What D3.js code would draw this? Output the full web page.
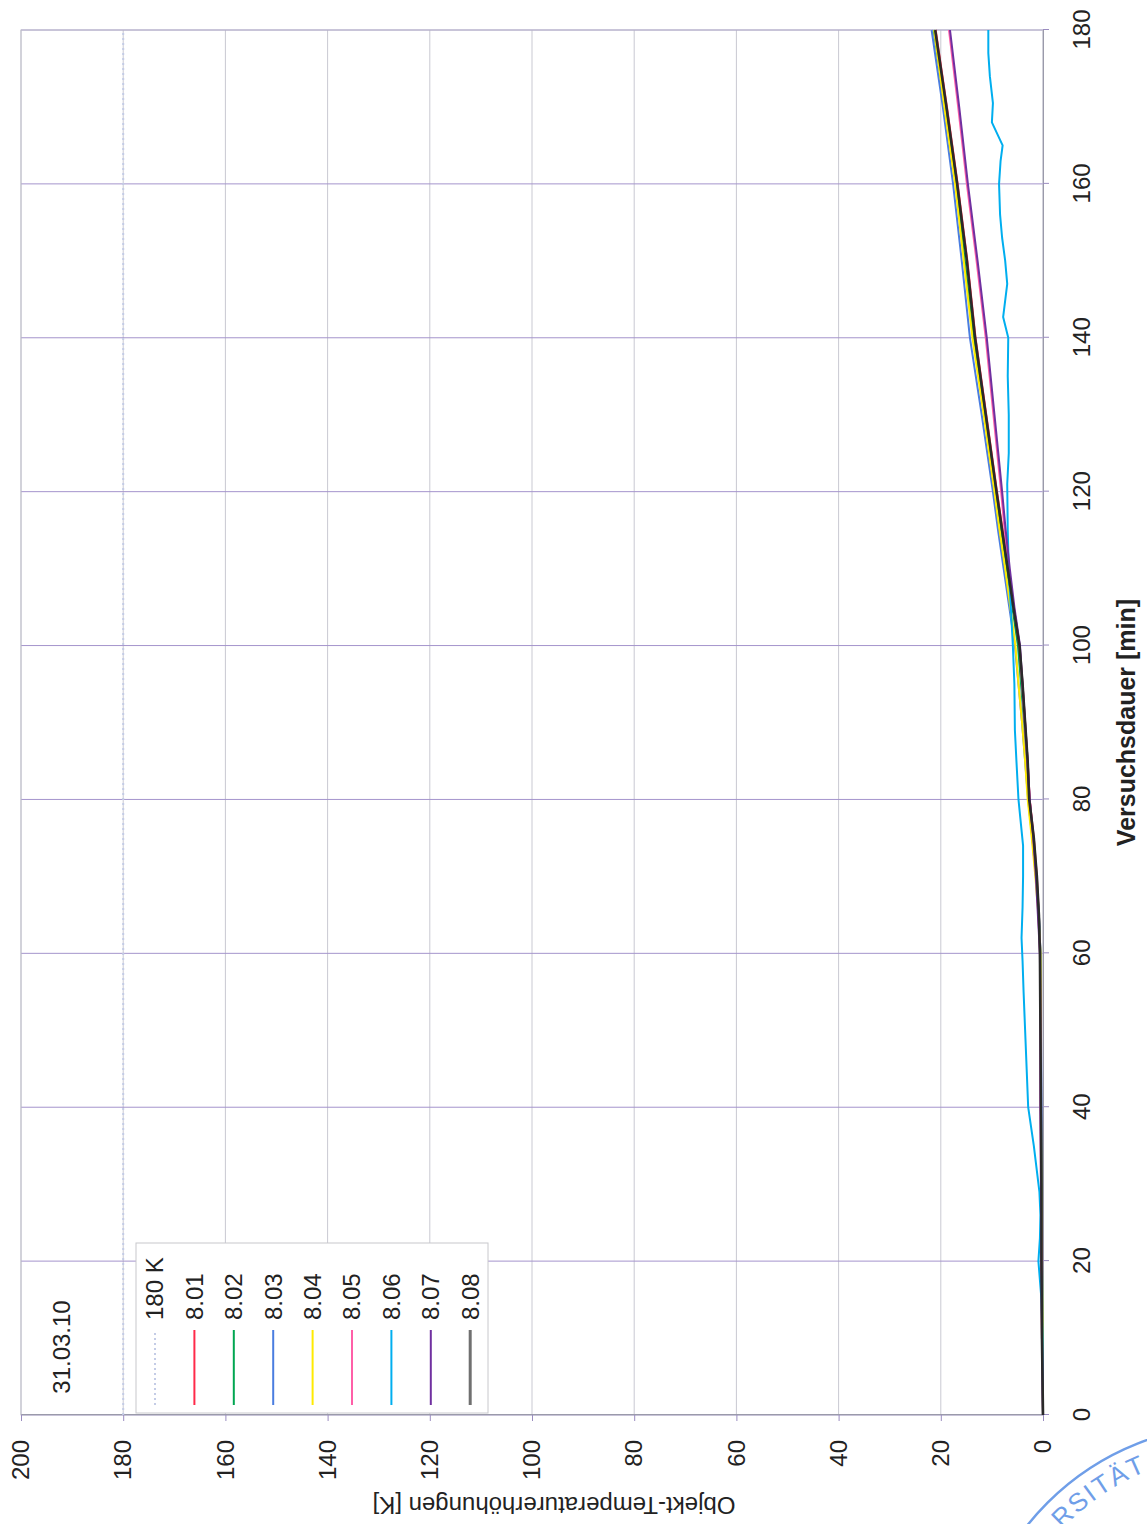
<!DOCTYPE html>
<html>
<head>
<meta charset="utf-8">
<script src="https://cdn.jsdelivr.net/npm/d3@7/dist/d3.min.js"></script>
<style>
  body { margin: 0; background: #fff; }
  text { font-family: "Liberation Sans", Arial, sans-serif; fill: #222; }
</style>
</head>
<body>
<svg id="chart" width="1147" height="1524"></svg>
<script>
// --- data ---
var timeTicks = [0, 20, 40, 60, 80, 100, 120, 140, 160, 180];
var tempTicks = [0, 20, 40, 60, 80, 100, 120, 140, 160, 180, 200];

var minutes = [0, 10, 20, 30, 40, 50, 60, 65, 70, 75, 80, 85, 90, 95, 100, 105, 110, 115, 120, 130, 140, 150, 160, 170, 180];
var s801 = [0, 0.2, 0.3, 0.3, 0.4, 0.4, 0.5, 0.8, 1.2, 1.8, 2.6, 3.0, 3.5, 4.0, 4.6, 5.7, 6.8, 7.9, 9.0, 11.1, 13.2, 14.8, 16.7, 18.8, 21.0];
var s802 = [0, 0.1, 0.2, 0.3, 0.4, 0.4, 0.5, 0.8, 1.3, 1.9, 2.7, 3.2, 3.7, 4.3, 4.9, 6.0, 7.1, 8.2, 9.3, 11.4, 13.6, 15.3, 17.0, 19.2, 21.4];
var s803 = [0, 0.1, 0.2, 0.2, 0.3, 0.4, 0.5, 0.8, 1.4, 2.1, 2.9, 3.5, 4.1, 4.8, 5.5, 6.6, 7.7, 8.8, 9.8, 12.0, 14.3, 15.9, 17.6, 19.6, 21.8];
var s804 = [0, 0.1, 0.2, 0.3, 0.4, 0.4, 0.5, 0.9, 1.5, 2.2, 3.0, 3.5, 4.1, 4.8, 5.4, 6.4, 7.4, 8.5, 9.5, 11.6, 13.8, 15.5, 17.2, 19.3, 21.3];
var s805 = [0, 0.2, 0.3, 0.4, 0.5, 0.5, 0.6, 0.9, 1.3, 1.9, 2.6, 3.1, 3.6, 4.1, 4.6, 5.8, 6.7, 7.5, 8.2, 9.7, 11.2, 13.0, 14.9, 16.6, 18.4];
var s807 = [0, 0.2, 0.3, 0.4, 0.5, 0.5, 0.6, 1.0, 1.4, 1.9, 2.6, 3.0, 3.5, 4.0, 4.5, 5.6, 6.5, 7.3, 8.0, 9.5, 11.0, 12.8, 14.7, 16.4, 18.2];
var s808 = [0, 0.2, 0.3, 0.3, 0.4, 0.5, 0.6, 0.8, 1.2, 1.8, 2.7, 3.0, 3.5, 4.0, 4.6, 5.8, 6.9, 8.0, 9.1, 11.2, 13.3, 14.9, 16.8, 18.9, 21.1];

// 8.06 is the noisy one, read at more points
var minutes806 = [0, 10, 15, 20, 23, 26, 29, 35, 40, 45, 50, 55, 59, 62, 66, 70, 74, 78, 80, 85, 89, 95, 100, 105, 110, 115, 121, 125, 130, 135, 140, 142.7, 147, 150, 153, 156, 160, 163, 165, 168, 170.5, 174, 177, 180];
var s806 = [0, 0.1, 0.3, 0.9, 0.6, 0.5, 0.7, 1.8, 2.9, 3.2, 3.5, 3.8, 4.0, 4.2, 4.0, 3.9, 3.9, 4.5, 4.8, 5.2, 5.5, 5.6, 5.9, 6.3, 6.7, 6.9, 7.0, 6.7, 6.7, 6.9, 6.8, 7.8, 7.0, 7.4, 8.0, 8.4, 8.6, 8.3, 7.9, 10.0, 9.8, 10.4, 10.7, 10.7];

var refLevel = 180; // the "180 K" line

var seriesNames = ["8.01", "8.02", "8.03", "8.04", "8.05", "8.06", "8.07", "8.08"];
var seriesColors = ["#ff2a4a", "#00a651", "#4a7de0", "#ffea00", "#ff5fa8", "#00aeef", "#7030a0", "#2a2a2a"];

// --- layout: the chart is drawn normally, then turned by -90 degrees ---
var svg = d3.select("#chart");
var W = 1385, H = 1022;

var g = svg.append("g").attr("transform", "translate(21,1415) rotate(-90)");

var x = d3.scaleLinear().domain([0, 180]).range([0, W]);
var y = d3.scaleLinear().domain([0, 200]).range([H, 0]);

// grid
g.append("g").selectAll("line").data(tempTicks)
  .enter().append("line")
    .attr("x1", 0).attr("x2", W)
    .attr("y1", function(d) { return y(d); })
    .attr("y2", function(d) { return y(d); })
    .attr("stroke", "#c9c9d2").attr("stroke-width", 1);

g.append("g").selectAll("line").data(timeTicks)
  .enter().append("line")
    .attr("x1", function(d) { return x(d); })
    .attr("x2", function(d) { return x(d); })
    .attr("y1", 0).attr("y2", H)
    .attr("stroke", "#a494cc").attr("stroke-width", 1);

g.append("rect")
  .attr("width", W).attr("height", H)
  .attr("fill", "none").attr("stroke", "#c0c0cc").attr("stroke-width", 1);

// axes
var xAxis = g.append("g")
  .attr("transform", "translate(0," + H + ")")
  .call(d3.axisBottom(x).tickValues(timeTicks).tickSize(6).tickPadding(24));
var yAxis = g.append("g")
  .call(d3.axisLeft(y).tickValues(tempTicks).tickSize(6).tickPadding(19));

[xAxis, yAxis].forEach(function(a) {
  a.select(".domain").attr("stroke", "#9a9aaa");
  a.selectAll(".tick line").attr("stroke", "#9a8cc0");
  a.selectAll(".tick text")
    .attr("font-size", 24)
    .attr("font-family", "'Liberation Sans', Arial, sans-serif")
    .attr("fill", "#222");
});
yAxis.selectAll(".tick text").attr("text-anchor", "end");

// axis titles
g.append("text")
  .attr("x", W / 2).attr("y", 1105).attr("dy", "0.35em")
  .attr("text-anchor", "middle")
  .attr("font-size", 25).attr("font-weight", "bold")
  .text("Versuchsdauer [min]");

g.append("text")
  .attr("transform", "translate(-90,533) rotate(-90)")
  .attr("dy", "0.35em")
  .attr("text-anchor", "middle")
  .attr("font-size", 24)
  .text("Objekt-Temperaturerhöhungen [K]");

// lines
var line = d3.line()
  .x(function(d) { return x(d[0]); })
  .y(function(d) { return y(d[1]); })
  .curve(d3.curveLinear);

g.append("path")
  .attr("d", line([[0, refLevel], [180, refLevel]]))
  .attr("fill", "none").attr("stroke", "#c4cce6")
  .attr("stroke-width", 2).attr("stroke-dasharray", "2,3");

var seriesValues = [s801, s802, s803, s804, s805, s806, s807, s808];
seriesValues.forEach(function(vals, i) {
  var times = i == 5 ? minutes806 : minutes;
  var pts = times.map(function(t, k) { return [t, vals[k]]; });
  g.append("path")
    .attr("d", line(pts))
    .attr("fill", "none")
    .attr("stroke", seriesColors[i])
    .attr("stroke-width", i == 7 ? 2.6 : 2)
    .attr("stroke-linejoin", "round");
});

// legend
var legend = g.append("g").attr("transform", "translate(2,115)");
legend.append("rect")
  .attr("width", 170).attr("height", 352)
  .attr("fill", "#fff").attr("stroke", "#c8c8cc");

var legNames = ["180 K"].concat(seriesNames);
var legColors = ["#c4cce6"].concat(seriesColors);
legColors[8] = "#707070";
legend.selectAll(".leg").data(legNames)
  .enter().append("g")
    .attr("class", "leg")
    .attr("transform", function(d, i) { return "translate(0," + (19 + i * 39.4) + ")"; })
    .each(function(d, i) {
      var e = d3.select(this);
      e.append("line")
        .attr("x1", 8).attr("x2", 83)
        .attr("stroke", legColors[i])
        .attr("stroke-width", i == 8 ? 3 : 2)
        .attr("stroke-dasharray", i == 0 ? "2,3" : null);
      e.append("text")
        .attr("x", 93).attr("dy", "0.35em")
        .attr("font-size", 24)
        .text(d);
    });

// date label
g.append("text")
  .attr("x", 68).attr("y", 41).attr("dy", "0.35em")
  .attr("text-anchor", "middle")
  .attr("font-size", 24)
  .text("31.03.10");

// part of the university stamp in the corner
var stamp = svg.append("g").attr("transform", "translate(1235,1690)");
stamp.append("circle")
  .attr("r", 265).attr("fill", "none")
  .attr("stroke", "#6f9ee8").attr("stroke-width", 2.5);
var a0 = -137 * Math.PI / 180, a1 = -20 * Math.PI / 180, rs = 236;
stamp.append("path")
  .attr("id", "stampArc")
  .attr("d", "M" + rs * Math.cos(a0) + "," + rs * Math.sin(a0) +
             " A" + rs + "," + rs + " 0 0,1 " + rs * Math.cos(a1) + "," + rs * Math.sin(a1))
  .attr("fill", "none");
stamp.append("text")
  .attr("font-size", 26)
  .attr("letter-spacing", 2)
  .style("fill", "#6f9ee8")
  .append("textPath")
    .attr("href", "#stampArc")
    .text("RSITÄT");
</script>
</body>
</html>
